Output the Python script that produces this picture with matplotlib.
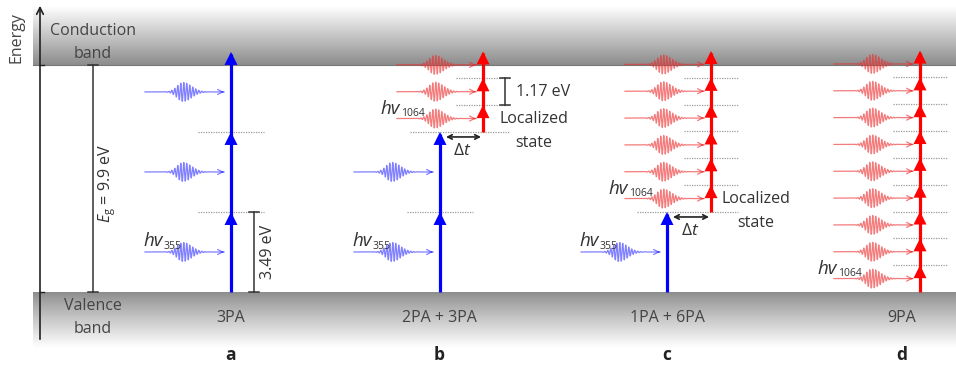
import numpy as np
import matplotlib
matplotlib.use('Agg')
import matplotlib.pyplot as plt
from matplotlib.patches import Polygon

plt.rcParams['font.family'] = ['Open Sans', 'DejaVu Sans']
plt.rcParams['mathtext.fontset'] = 'custom'
plt.rcParams['mathtext.rm'] = 'Open Sans'
plt.rcParams['mathtext.it'] = 'Open Sans:italic'
plt.rcParams['mathtext.bf'] = 'Open Sans:bold'

# ---------------- data ----------------
E_GAP = 9.9          # band gap (eV)
E_UV = 3.49          # 355 nm photon energy (eV)
E_IR = 1.17          # 1064 nm photon energy (eV)
panel_letters = ['a', 'b', 'c', 'd']
process_labels = ['3PA', '2PA + 3PA', '1PA + 6PA', '9PA']
n_uv_photons = [3, 2, 1, 0]
n_ir_photons = [0, 3, 6, 9]
gap_label = r'$E_{\rm g}$ = 9.9 eV'
photon_symbol = 'hv'
uv_sub = '355'
ir_sub = '1064'
uv_step_label = '3.49 eV'
ir_step_label = '1.17 eV'
dt_label = r'$\Delta t$'
loc_label = ['Localized', 'state']

# ---------------- layout ----------------
W, H = 956, 366
Y_VB_PX, Y_CB_PX = 292, 65
PPE = (Y_VB_PX - Y_CB_PX) / E_GAP          # pixels per eV


def E(ypx):
    return (Y_VB_PX - ypx) / PPE


def d(px):
    return px / PPE


uv_x = [231, 440, 667, None]
ir_x = [None, 483, 711, 920]
label_x = [231, 439, 667, 902]

BLUE = '#0000ff'
RED = '#ff0000'
PULSE_BLUE = '#3030ff'
PULSE_RED = '#ee2a2a'
TXT = '#333333'

fig = plt.figure(figsize=(W / 100, H / 100), dpi=100)
ax = fig.add_axes([0, 0, 1, 1])
ax.set_xlim(0, W)
ax.set_ylim(E(H), E(0))
ax.axis('off')

# ---------------- bands ----------------
g = np.linspace(0.0, 1.0, 256).reshape(-1, 1)
cb = 1.0 - 0.45 * g     # white at top -> gray at bottom (image origin upper)
ax.imshow(cb, cmap='gray', vmin=0, vmax=1, aspect='auto', interpolation='bilinear',
          extent=[33, W, E_GAP, E(6)], origin='upper', zorder=0)
vb = 0.55 + 0.45 * g ** 0.9
ax.imshow(vb, cmap='gray', vmin=0, vmax=1, aspect='auto', interpolation='bilinear',
          extent=[33, W, E(348), 0.0], origin='upper', zorder=0)
ax.plot([33, W], [E_GAP, E_GAP], color='#777777', lw=0.8, zorder=0.5)

# ---------------- energy axis ----------------
ax.annotate('', xy=(40, E(3)), xytext=(40, E(342)),
            arrowprops=dict(arrowstyle='->', lw=1.2, color='#222222',
                            mutation_scale=12), zorder=5)
for lev in (0.0, E_GAP):
    ax.plot([40, 44], [lev, lev], color='#222222', lw=1.0, zorder=5)
ax.text(17, E(38), 'Energy', rotation=90, ha='center', va='center',
        fontsize=11.5, color='#444444')
ax.text(93, E(31), 'Conduction', ha='center', va='center', fontsize=11.5, color='#444444')
ax.text(93, E(54), 'band', ha='center', va='center', fontsize=11.5, color='#444444')
ax.text(93, E(306), 'Valence', ha='center', va='center', fontsize=11.5, color='#444444')
ax.text(93, E(329), 'band', ha='center', va='center', fontsize=11.5, color='#444444')


def bracket(x, e0, e1, half=5):
    ax.plot([x, x], [e0, e1], color=TXT, lw=1.1, zorder=5)
    for e in (e0, e1):
        ax.plot([x - half, x + half], [e, e], color=TXT, lw=1.1, zorder=5)


bracket(93, 0.0, E_GAP)
ax.text(107, E(183), gap_label, rotation=90, ha='center', va='center',
        fontsize=11.5, color=TXT)


def dotted(x0, x1, e):
    ax.plot([x0, x1], [e, e], color='#9a9a9a', lw=0.9, ls=(0, (1, 1)), zorder=1)


def head(x, e, color, w=6.5, h=13):
    ax.add_patch(Polygon([[x - w, e - d(h)], [x + w, e - d(h)], [x, e]],
                         closed=True, color=color, lw=0, zorder=4))


def pulse(xline, e, color):
    x0, x1 = xline - 86, xline - 7
    xc = xline - 48
    xs = np.linspace(x0, x1, 1200)
    sig = np.where(xs < xc, 6.0, 8.5)
    env = np.exp(-0.5 * ((xs - xc) / sig) ** 2)
    ys = e + d(9.5) * env * np.sin(2 * np.pi * (xs - xc) / 3.0)
    ax.plot(xs, ys, color=color, lw=0.9, alpha=0.62, zorder=2)
    ax.annotate('', xy=(x1, e), xytext=(x1 - 2, e),
                arrowprops=dict(arrowstyle='->', lw=0.9, color=color, alpha=0.62,
                                mutation_scale=9, shrinkA=0, shrinkB=0), zorder=2)


def hv_label(x, e, sub):
    t = ax.text(x, e, photon_symbol, style='italic', ha='left', va='baseline',
                fontsize=13.5, color=TXT, zorder=5)
    ax.annotate(sub, xy=(1, 0), xycoords=t, xytext=(1, 0.8),
                textcoords='offset points', ha='left', va='baseline',
                fontsize=7.5, color=TXT, zorder=5)


for i in range(4):
    nuv, nir = n_uv_photons[i], n_ir_photons[i]
    bx, rx = uv_x[i], ir_x[i]
    e_switch = nuv * E_UV
    # UV ladder
    if nuv > 0:
        ax.plot([bx, bx], [0.0, e_switch - d(2)], color=BLUE, lw=2.3, zorder=3,
                solid_capstyle='butt')
        for k in range(1, nuv + 1):
            head(bx, k * E_UV, BLUE)
            pulse(bx, (k - 0.5) * E_UV, PULSE_BLUE)
        for k in range(1, nuv):
            dotted(bx - 33, bx + 33, k * E_UV)
        hv_label(bx - 88, 0.5 * E_UV + d(6), uv_sub)
    # IR ladder
    if nir > 0:
        ax.plot([rx, rx], [e_switch, e_switch + nir * E_IR - d(2)], color=RED, lw=2.3,
                zorder=3, solid_capstyle='butt')
        for k in range(1, nir + 1):
            head(rx, e_switch + k * E_IR, RED)
            pulse(rx, e_switch + (k - 0.5) * E_IR, PULSE_RED)
        for k in range(1, nir):
            dotted(rx - 27, rx + 27, e_switch + k * E_IR)
        hv_label(rx - 103, e_switch + 0.5 * E_IR + d(5), ir_sub)
    # switching level with delay
    if nuv > 0 and nir > 0:
        dotted(bx - 30, rx + 27, e_switch)
        ax.annotate('', xy=(rx - 2, e_switch - d(5)), xytext=(bx + 6, e_switch - d(5)),
                    arrowprops=dict(arrowstyle='<->', lw=1.2, color='#222222',
                                    mutation_scale=8, shrinkA=0, shrinkB=0), zorder=5)
        ax.text((bx + rx) / 2 + 1, e_switch - d(19), dt_label, ha='center',
                va='center', fontsize=12.5, color=TXT)
        lx = rx + (51 if i == 1 else 45)
        ax.text(lx, e_switch + d(13), loc_label[0], ha='center', va='center',
                fontsize=11.5, color=TXT)
        ax.text(lx, e_switch - d(11), loc_label[1], ha='center', va='center',
                fontsize=11.5, color=TXT)
    ax.text(label_x[i], E(318), process_labels[i], ha='center', va='center',
            fontsize=11.5, color='#444444')
    ax.text(label_x[i], E(355), panel_letters[i], ha='center', va='center',
            fontsize=12.5, fontweight='bold', color='#222222')

# step brackets
bracket(uv_x[0] + 23, 0.0, E_UV)
ax.text(uv_x[0] + 37, 0.5 * E_UV, uv_step_label, rotation=90, ha='center',
        va='center', fontsize=11.5, color=TXT)
e_sw_b = n_uv_photons[1] * E_UV
bracket(ir_x[1] + 22, e_sw_b + E_IR, e_sw_b + 2 * E_IR)
ax.text(ir_x[1] + 33, e_sw_b + 1.5 * E_IR, ir_step_label, ha='left', va='center',
        fontsize=11.5, color=TXT)

fig.savefig('out.png', dpi=100)
